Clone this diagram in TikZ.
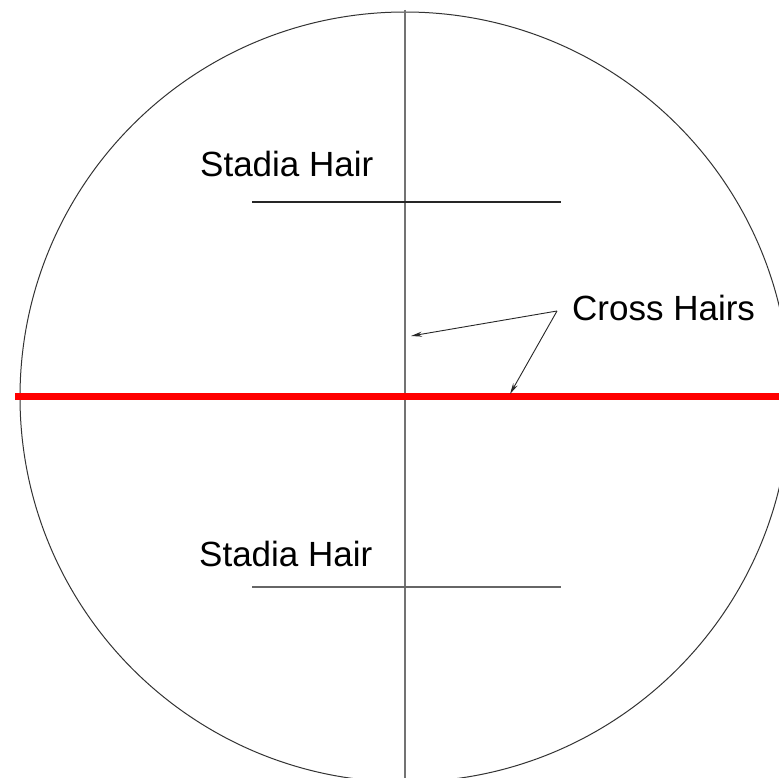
\documentclass[tikz,border=0pt]{standalone}
\usepackage{fontspec}
\setmainfont{Liberation Sans}
\usepackage{tikz}
\usetikzlibrary{positioning,arrows.meta,calc}

\begin{document}
\begin{tikzpicture}[
    x=1pt,y=-1pt,
    >={Stealth[length=11pt,width=5pt]},
    font=\fontsize{35}{40}\selectfont,
    hair/.style={
        draw=black!85,
        line width=1.1pt
    },
    redhair/.style={
        draw=red,
        line width=7pt
    },
    label/.style={
        inner sep=0pt,
        anchor=base west
    },
    arr/.style={->, line width=0.9pt, black!85}
]

\useasboundingbox (0,0) rectangle (779,778);
\clip (0,0) rectangle (779,778);

% field of view
\coordinate (centre) at (405,397);
\draw[black!80, line width=1pt] (centre) circle (385);

% vertical cross hair
\coordinate (vtop) at (405,10);
\coordinate (vbot) at (405,778);
\draw[draw=black!55, line width=1.4pt] (vtop) -- (vbot);

% horizontal cross hair
\coordinate (hleft) at (15,396);
\coordinate (hright) at (779,396);
\draw[redhair] (hleft) -- (hright);

% stadia hairs
\coordinate (supl) at (252,202);
\coordinate (supr) at (561,202);
\coordinate (slol) at (252,587);
\coordinate (slor) at (561,587);
\draw[hair] (supl) -- (supr);
\draw[hair, draw=black!60] (slol) -- (slor);

\node[label] (stadiaupper) at (200,177) {Stadia Hair};
\node[label] (stadialower) at (199,566) {Stadia Hair};

% labels for cross hairs
\node[label] (crossnote) at (572,320) {Cross Hairs};
\coordinate (fork) at (557,311);
\coordinate (vhit) at (411,336);
\coordinate (hhit) at (510,394);
\draw[arr] (fork) -- (vhit);
\draw[arr] (fork) -- (hhit);

\end{tikzpicture}
\end{document}
